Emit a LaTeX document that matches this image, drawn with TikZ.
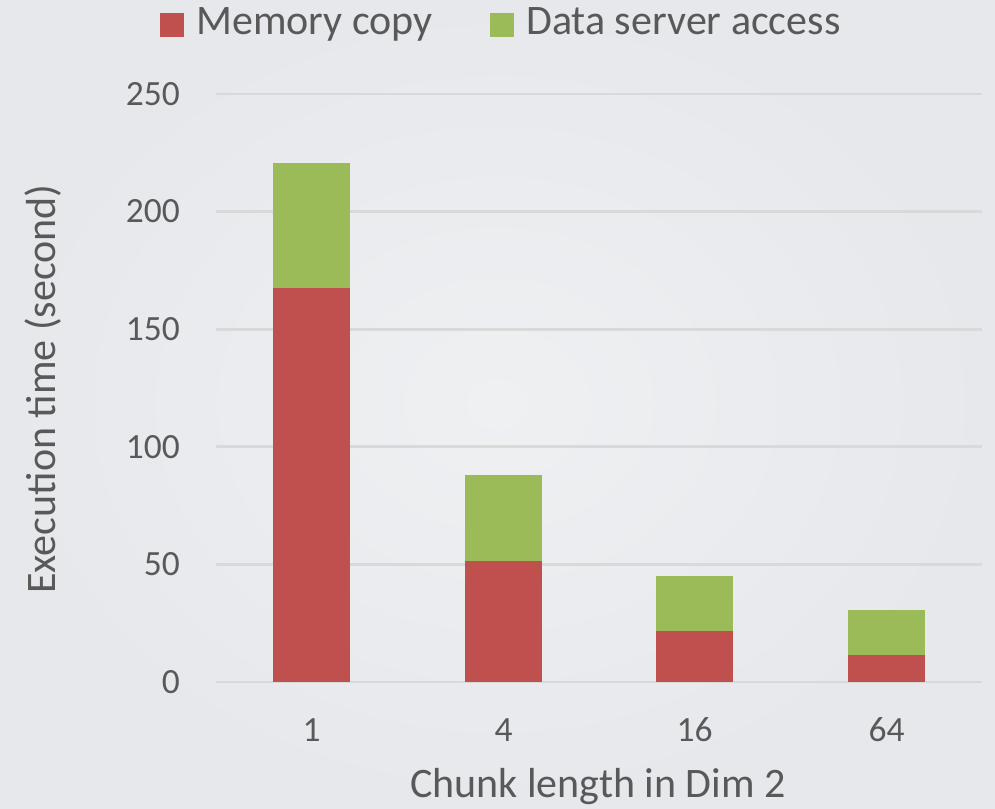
\documentclass[tikz,border=0pt]{standalone}
\usepackage{fontspec}
\setmainfont{Carlito}
\definecolor{memred}{HTML}{C0504D}
\definecolor{dsgreen}{HTML}{9BBB59}
\definecolor{txtgray}{HTML}{595959}
\definecolor{gridgray}{HTML}{D9D9D9}
\definecolor{bginner}{HTML}{EFF0F2}
\definecolor{bgouter}{HTML}{E6E8EC}

\begin{document}
\begin{tikzpicture}[x=0.75pt,y=0.75pt,
  ticklab/.style={text=txtgray,font=\fontsize{26.6}{30}\selectfont,inner sep=0pt},
  titlelab/.style={text=txtgray,font=\fontsize{31.5}{36}\selectfont,inner sep=0pt},
  gridline/.style={draw=gridgray,line width=2pt},
  membar/.style={fill=memred},
  dsbar/.style={fill=dsgreen},
  legkey/.style={minimum size=18pt,inner sep=0pt}]
\useasboundingbox (0,0) rectangle (995,808);
% slide background
\shade[inner color=bginner,outer color=bgouter] (0,0) rectangle (995,808);

% horizontal gridlines and value labels
\foreach \v in {0,50,...,250} {
  \draw[gridline] (216,{126+2.352*\v}) -- (982,{126+2.352*\v});
  \node[ticklab,anchor=east] (ytick\v) at (180,{126+2.352*\v}) {\v};
}

% stacked bars: left edge / memory copy / total / category
\foreach \x/\m/\t/\lab in {273/167.5/220.7/1, 465/51.5/88/4, 656/21.7/45/16, 848/11.5/30.6/64} {
  \fill[membar] (\x,126) rectangle ({\x+77},{126+2.352*\m});
  \fill[dsbar] (\x,{126+2.352*\m}) rectangle ({\x+77},{126+2.352*\t});
  \node[ticklab] (xtick\lab) at ({\x+38.5},78) {\lab};
}

% axis titles
\node[titlelab,anchor=base] (xtitle) at (598,11) {Chunk length in Dim 2};
\node[titlelab,anchor=base,rotate=90] (ytitle) at (55,419) {Execution time (second)};

% legend
\node[legkey,fill=memred] (keymem) at (172,783) {};
\node[titlelab,anchor=base west] (legmem) at (196,773) {Memory copy};
\node[legkey,fill=dsgreen] (keyds) at (502,783) {};
\node[titlelab,anchor=base west] (legds) at (526,773) {Data server access};
\end{tikzpicture}
\end{document}
